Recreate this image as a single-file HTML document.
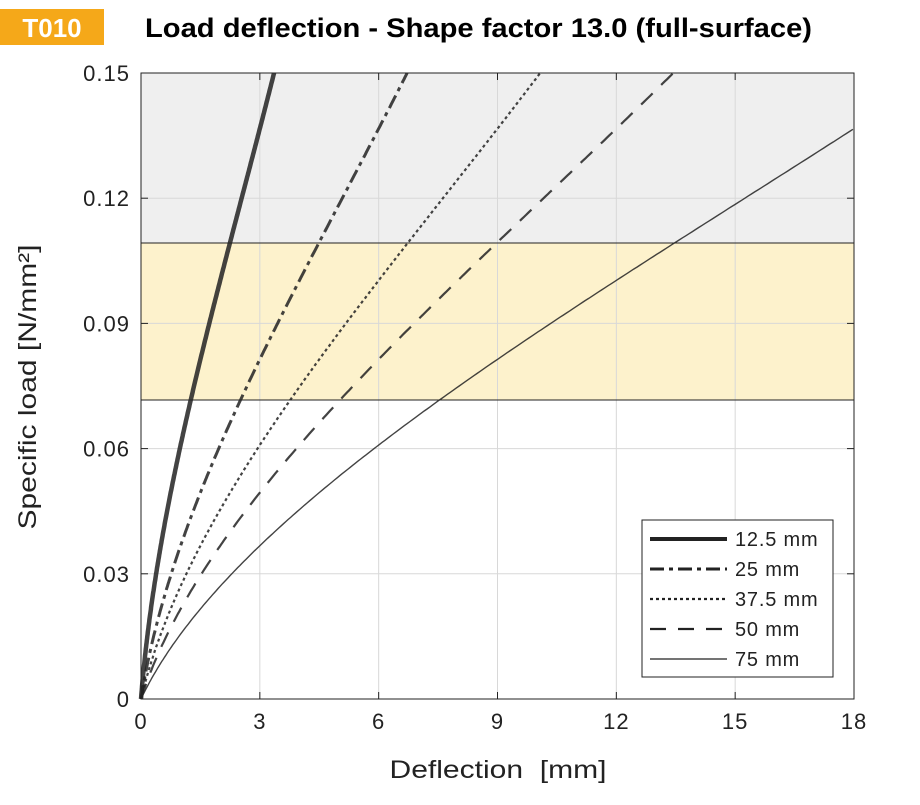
<!DOCTYPE html>
<html><head><meta charset="utf-8"><style>
body{margin:0;background:#fff;width:920px;height:800px;overflow:hidden;font-family:"Liberation Sans",sans-serif}
</style></head><body>
<svg id="s" width="920" height="800" xmlns="http://www.w3.org/2000/svg" font-family="Liberation Sans, sans-serif">
<rect x="0" y="9" width="104" height="36" fill="#f5a819"/>
<text x="52" y="37" text-anchor="middle" font-size="26" font-weight="bold" fill="#fff">T010</text>
<text x="145" y="37" font-size="27" font-weight="bold" fill="#000" textLength="667" lengthAdjust="spacingAndGlyphs">Load deflection - Shape factor 13.0 (full-surface)</text>
<rect x="141" y="73" width="713" height="170" fill="#efefef"/>
<rect x="141" y="243" width="713" height="157" fill="#fdf2cc"/>
<g id="grid" stroke="#d8d8d8" stroke-width="1"></g>
<line x1="141" y1="243" x2="854" y2="243" stroke="#222" stroke-width="1"/>
<line x1="141" y1="400" x2="854" y2="400" stroke="#222" stroke-width="1"/>
<g id="curves" fill="none" stroke-opacity="0.85"></g>
<rect x="141" y="73" width="713" height="626" fill="none" stroke="#222" stroke-width="1"/>
<g id="ticks" stroke="#222" stroke-width="1"></g>
<g id="labels" font-size="22" fill="#222" letter-spacing="1"></g>
<rect x="642" y="520" width="191" height="157" fill="#fff" stroke="#222"/>
<g font-size="20" fill="#222" letter-spacing="0.8">
<line x1="650" y1="539" x2="727" y2="539" stroke="#222" stroke-width="4"/><text x="735" y="546">12.5 mm</text>
<line x1="650" y1="569" x2="727" y2="569" stroke="#222" stroke-width="3" stroke-dasharray="14,5,4,5"/><text x="735" y="576">25 mm</text>
<line x1="650" y1="599" x2="727" y2="599" stroke="#222" stroke-width="2.2" stroke-dasharray="3,3"/><text x="735" y="606">37.5 mm</text>
<line x1="650" y1="629" x2="727" y2="629" stroke="#222" stroke-width="2.2" stroke-dasharray="16,12"/><text x="735" y="636">50 mm</text>
<line x1="650" y1="659" x2="727" y2="659" stroke="#222" stroke-width="1.3"/><text x="735" y="666">75 mm</text>
</g>
<text x="498" y="778" text-anchor="middle" font-size="25" fill="#222" xml:space="preserve" textLength="217" lengthAdjust="spacingAndGlyphs">Deflection  [mm]</text>
<text transform="translate(36,387) rotate(-90)" text-anchor="middle" font-size="25" fill="#222" textLength="285" lengthAdjust="spacingAndGlyphs">Specific load [N/mm²]</text>
</svg>
<script>
var NS="http://www.w3.org/2000/svg";
function el(p,t,a){var e=document.createElementNS(NS,t);for(var k in a)e.setAttribute(k,a[k]);document.getElementById(p).appendChild(e);return e;}
function X(v){return 141+v*713/18;}function Y(v){return 699-v*626/0.15;}
for(var i=1;i<6;i++){var x=X(i*3);el("grid","line",{x1:x,y1:73,x2:x,y2:699});}
for(var i=1;i<5;i++){var y=Y(i*0.03);el("grid","line",{x1:141,y1:y,x2:854,y2:y});}
for(var i=0;i<=6;i++){var x=X(i*3);el("ticks","line",{x1:x,y1:699,x2:x,y2:692});el("ticks","line",{x1:x,y1:73,x2:x,y2:80});
 var t=el("labels","text",{x:x,y:729,"text-anchor":"middle"});t.textContent=String(i*3);}
var yl=["0","0.03","0.06","0.09","0.12","0.15"];
for(var i=0;i<=5;i++){var y=Y(i*0.03);el("ticks","line",{x1:141,y1:y,x2:148,y2:y});el("ticks","line",{x1:854,y1:y,x2:847,y2:y});
 var t=el("labels","text",{x:130,y:y+8,"text-anchor":"end"});t.textContent=yl[i];}
function f(y){return 50*y+960*y*y-2650*y*y*y;}
var cs=[[1/6,"4.5",""],[1/3,"3","14,5,4,5"],[1/2,"2.2","3,3"],[2/3,"2.2","16,12"],[1,"1.4",""]];
cs.forEach(function(c){var d="";for(var k=0;k<=300;k++){var y=0.15*k/300;var x=f(y)*c[0];if(x>18){break;}d+=(k?"L":"M")+X(x).toFixed(1)+","+Y(y).toFixed(1);}
 var a={d:d,stroke:"#222","stroke-width":c[1]};if(c[2])a["stroke-dasharray"]=c[2];el("curves","path",a);});
</script>
</body></html>
